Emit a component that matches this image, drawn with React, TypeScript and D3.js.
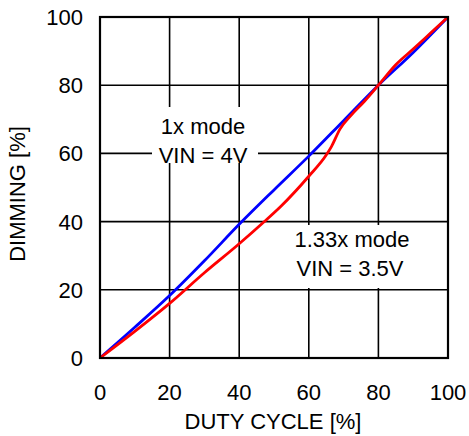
import React from "react";
import * as d3 from "d3";

const xTicks = [0, 20, 40, 60, 80, 100];
const yTicks = [0, 20, 40, 60, 80, 100];

const blueDuty = [0, 10, 20, 30, 40, 50, 60, 70, 80, 90, 100];
const blueDim = [0, 9, 18.3, 28.5, 39.2, 49.3, 59.2, 69.6, 80, 89.6, 100];

const redDuty = [0, 10, 20, 30, 40, 47, 52, 60, 65, 66.5, 69, 72, 76, 80, 85, 90, 95, 100];
const redDim = [0, 7.8, 16, 25, 33.5, 39.8, 44.5, 53.3, 59.5, 62, 67.2, 71, 75.3, 80, 86, 90.6, 95.3, 100];

const xTitle = "DUTY CYCLE [%]";
const yTitle = "DIMMING [%]";
const note1 = ["1x mode", "VIN = 4V"];
const note2 = ["1.33x mode", "VIN = 3.5V"];

const W = 469, H = 436;
const L = 100, R = 448, T = 17, B = 358;
const FONT = "Liberation Sans, Arial, sans-serif";

export default function App() {
  const x = d3.scaleLinear().domain([0, 100]).range([L, R]);
  const y = d3.scaleLinear().domain([0, 100]).range([B, T]);
  const line = d3
    .line<[number, number]>()
    .x((d) => x(d[0]))
    .y((d) => y(d[1]))
    .curve(d3.curveMonotoneX);
  const blue = blueDuty.map((d, i) => [d, blueDim[i]] as [number, number]);
  const red = redDuty.map((d, i) => [d, redDim[i]] as [number, number]);

  return (
    <svg width={W} height={H} style={{ position: "absolute", left: 0, top: 0 }} fontFamily={FONT}>
      <rect x={0} y={0} width={W} height={H} fill="#fff" />
      {xTicks.slice(1, -1).map((t) => (
        <line key={"gx" + t} x1={x(t)} x2={x(t)} y1={T} y2={B} stroke="#000" strokeWidth={1.6} />
      ))}
      {yTicks.slice(1, -1).map((t) => (
        <line key={"gy" + t} x1={L} x2={R} y1={y(t)} y2={y(t)} stroke="#000" strokeWidth={1.6} />
      ))}
      <rect x={152} y={107} width={106} height={56} fill="#fff" />
      <rect x={289} y={225} width={128} height={63} fill="#fff" />
      <path d={line(blue) || ""} fill="none" stroke="#0000ff" strokeWidth={2.8} />
      <path d={line(red) || ""} fill="none" stroke="#ff0000" strokeWidth={2.8} />
      <rect x={L} y={T} width={R - L} height={B - T} fill="none" stroke="#000" strokeWidth={2.2} />
      {xTicks.map((t) => (
        <text key={"tx" + t} x={x(t)} y={400} fontSize={22} textAnchor="middle" fill="#000">
          {t}
        </text>
      ))}
      {yTicks.map((t) => (
        <text key={"ty" + t} x={83} y={y(t)} dy="0.36em" fontSize={22} textAnchor="end" fill="#000">
          {t}
        </text>
      ))}
      <text x={273} y={429} fontSize={22} textAnchor="middle" fill="#000">
        {xTitle}
      </text>
      <text transform={`translate(25,${194}) rotate(-90)`} fontSize={22} textAnchor="middle" fill="#000">
        {yTitle}
      </text>
      <text x={203} y={134} fontSize={22} textAnchor="middle" fill="#000">{note1[0]}</text>
      <text x={203} y={163} fontSize={22} textAnchor="middle" fill="#000">{note1[1]}</text>
      <text x={352} y={247} fontSize={22} textAnchor="middle" fill="#000">{note2[0]}</text>
      <text x={350} y={276} fontSize={22} textAnchor="middle" fill="#000">{note2[1]}</text>
    </svg>
  );
}
